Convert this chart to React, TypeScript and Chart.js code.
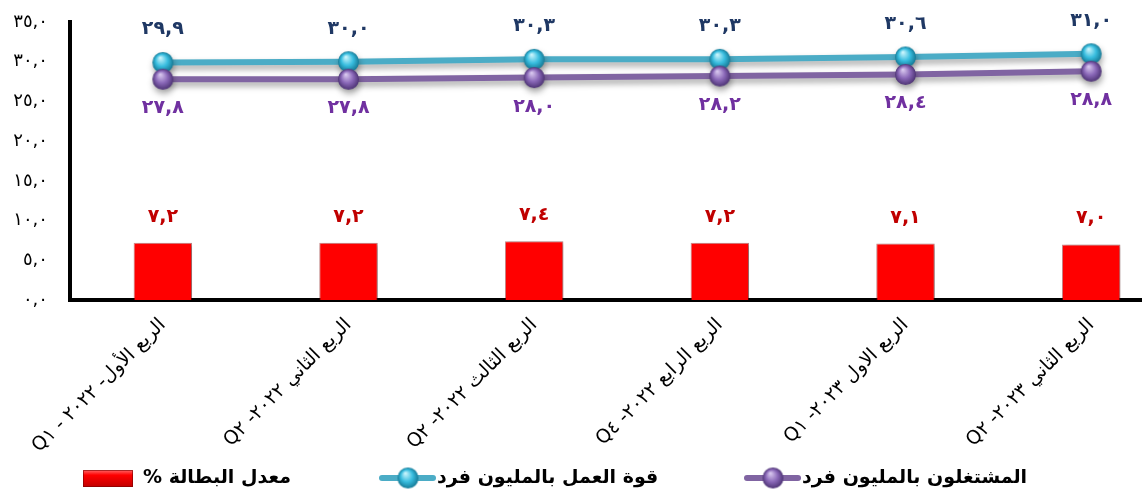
import React, { useEffect, useRef } from 'react';
import { Chart, registerables } from 'chart.js';

Chart.register(...registerables);

// ---------- data ----------
const categories = [
  'Q١\u200E - ٢٠٢٢\u200E -الربع الأول',
  'Q٢\u200E -٢٠٢٢\u200E الربع الثاني',
  'Q٢\u200E -٢٠٢٢\u200E الربع الثالث',
  'Q٤\u200E -٢٠٢٢\u200E الربع الرابع',
  'Q١\u200E -٢٠٢٣\u200E الربع الاول',
  'Q٢\u200E -٢٠٢٣\u200E الربع الثاني',
];
const unemploymentRate = [7.2, 7.2, 7.4, 7.2, 7.1, 7.0];
const laborForce = [29.9, 30.0, 30.3, 30.3, 30.6, 31.0];
const employed = [27.8, 27.8, 28.0, 28.2, 28.4, 28.8];
const seriesNames = ['معدل البطالة %', 'قوة العمل بالمليون فرد', 'المشتغلون بالمليون فرد'];
const yMin = 0;
const yMax = 35;
const yStep = 5;

const FONT = "'DejaVu Sans', 'Noto Sans', sans-serif";
const TEAL = '#4BACC6';
const PURPLE = '#8064A2';

const AR_DIGITS = ['٠', '١', '٢', '٣', '٤', '٥', '٦', '٧', '٨', '٩'];
function toArabic(v: number): string {
  return v
    .toFixed(1)
    .replace('.', ',')
    .replace(/[0-9]/g, (d) => AR_DIGITS[Number(d)]);
}

function sphere(light: string, mid: string, dark: string, r: number): HTMLCanvasElement {
  const c = document.createElement('canvas');
  const s = Math.ceil(r * 2 + 2);
  c.width = s;
  c.height = s;
  const g = c.getContext('2d')!;
  const cx = s / 2;
  const grad = g.createRadialGradient(cx - r * 0.25, cx - r * 0.45, r * 0.05, cx, cx, r);
  grad.addColorStop(0, light);
  grad.addColorStop(0.55, mid);
  grad.addColorStop(1, dark);
  g.fillStyle = grad;
  g.beginPath();
  g.arc(cx, cx, r, 0, Math.PI * 2);
  g.fill();
  return c;
}

const shadowPlugin = {
  id: 'shadowPlugin',
  beforeDatasetDraw(chart: any, args: any) {
    const ctx = chart.ctx;
    ctx.save();
    const isBar = chart.data.datasets[args.index].type === 'bar';
    ctx.shadowColor = 'rgba(0,0,0,0.35)';
    ctx.shadowBlur = isBar ? 4 : 6;
    ctx.shadowOffsetX = isBar ? 2 : 1;
    ctx.shadowOffsetY = isBar ? 1 : 4;
  },
  afterDatasetDraw(chart: any) {
    chart.ctx.restore();
  },
};

const valueLabelPlugin = {
  id: 'valueLabelPlugin',
  afterDatasetsDraw(chart: any) {
    const ctx = chart.ctx;
    chart.data.datasets.forEach((ds: any, i: number) => {
      const meta = chart.getDatasetMeta(i);
      meta.data.forEach((el: any, j: number) => {
        const v = ds.data[j];
        ctx.save();
        ctx.font = `bold 19px ${FONT}`;
        ctx.fillStyle = ds.labelColor;
        ctx.textAlign = 'center';
        ctx.textBaseline = 'middle';
        (ctx as any).letterSpacing = '1px';
        ctx.fillText(toArabic(v), el.x, el.y + ds.labelOffset);
        ctx.restore();
      });
    });
  },
};

function makeLegendPlugin(tealSphere: HTMLCanvasElement, purpleSphere: HTMLCanvasElement) {
  return {
    id: 'customLegend',
    afterDraw(chart: any) {
      const ctx = chart.ctx;
      const y = 478;
      ctx.save();
      ctx.font = `bold 19px ${FONT}`;
      ctx.textBaseline = 'middle';
      ctx.direction = 'rtl';
      ctx.textAlign = 'left';

      // item 1: bar
      const x1 = 83;
      const g = ctx.createLinearGradient(0, y - 8, 0, y + 9);
      g.addColorStop(0, '#ff6a6a');
      g.addColorStop(0.3, '#ff0000');
      g.addColorStop(1, '#c00000');
      ctx.fillStyle = g;
      ctx.fillRect(x1, y - 8, 50, 17);
      ctx.strokeStyle = 'rgba(120,0,0,0.6)';
      ctx.lineWidth = 1;
      ctx.strokeRect(x1 + 0.5, y - 7.5, 49, 16);
      ctx.fillStyle = '#000';
      ctx.fillText(seriesNames[0], x1 + 60, y);

      // items 2, 3: lines
      const items = [
        { x: 380, color: TEAL, img: tealSphere, name: seriesNames[1] },
        { x: 745, color: PURPLE, img: purpleSphere, name: seriesNames[2] },
      ];
      items.forEach((it) => {
        ctx.strokeStyle = it.color;
        ctx.lineWidth = 6;
        ctx.lineCap = 'round';
        ctx.beginPath();
        ctx.moveTo(it.x + 2, y);
        ctx.lineTo(it.x + 53, y);
        ctx.stroke();
        ctx.drawImage(it.img, it.x + 28 - it.img.width / 2, y - it.img.height / 2);
        ctx.fillStyle = '#000';
        ctx.fillText(it.name, it.x + 57, y);
      });
      ctx.restore();
    },
  };
}

export default function App() {
  const ref = useRef<HTMLCanvasElement | null>(null);

  useEffect(() => {
    if (!ref.current) return;
    const tealSphere = sphere('#c8f4fc', '#38bddf', '#167a96', 10.5);
    const purpleSphere = sphere('#d7c6ee', '#8a68b8', '#4e3475', 10.5);

    const chart: any = new Chart(ref.current, {
      type: 'bar',
      data: {
        labels: categories,
        datasets: [
          {
            type: 'line',
            label: seriesNames[2],
            data: employed,
            borderColor: PURPLE,
            borderWidth: 6,
            pointStyle: purpleSphere as any,
            pointRadius: 10,
            order: 0,
            labelColor: '#7030A0',
            labelOffset: 29,
          } as any,
          {
            type: 'line',
            label: seriesNames[1],
            data: laborForce,
            borderColor: TEAL,
            borderWidth: 6,
            pointStyle: tealSphere as any,
            pointRadius: 10,
            order: 1,
            labelColor: '#1F3864',
            labelOffset: -33,
          } as any,
          {
            type: 'bar',
            label: seriesNames[0],
            data: unemploymentRate,
            backgroundColor: '#FF0000',
            borderColor: 'rgba(140,0,0,0.45)',
            borderWidth: 1,
            categoryPercentage: 1,
            barPercentage: 0.315,
            order: 2,
            labelColor: '#C00000',
            labelOffset: -26,
          } as any,
        ],
      },
      options: {
        responsive: false,
        animation: false,
        layout: { padding: { top: 22, right: 8, left: 0, bottom: 0 } },
        plugins: {
          legend: { display: false },
          tooltip: { enabled: false },
        },
        scales: {
          x: {
            grid: { display: false, drawTicks: false },
            border: { display: true, color: '#000', width: 4 },
            ticks: {
              color: '#000',
              font: { family: FONT, size: 19 },
              minRotation: 45,
              maxRotation: 45,
              autoSkip: false,
              padding: 14,
            },
            afterFit: (s: any) => {
              s.height = 192;
              s.paddingLeft = 0;
              s.paddingRight = 0;
            },
          },
          y: {
            min: yMin,
            max: yMax,
            grid: { display: false, drawTicks: false },
            border: { display: true, color: '#000', width: 4 },
            ticks: {
              stepSize: yStep,
              color: '#000',
              padding: 22,
              font: { family: FONT, size: 18 },
              callback: (v: any) => toArabic(Number(v)),
            },
            afterFit: (s: any) => {
              s.width = 70;
              s.paddingTop = 0;
              s.paddingBottom = 0;
            },
          },
        },
      },
      plugins: [shadowPlugin, valueLabelPlugin, makeLegendPlugin(tealSphere, purpleSphere)],
    } as any);

    return () => chart.destroy();
  }, []);

  return (
    <div
      style={{
        position: 'fixed',
        left: 0,
        top: 0,
        width: 1142,
        height: 492,
        overflow: 'hidden',
        background: '#fff',
      }}
    >
      <div style={{ width: 1200, height: 492 }}>
        <canvas ref={ref} width={1200} height={492} style={{ display: 'block' }} />
      </div>
    </div>
  );
}
